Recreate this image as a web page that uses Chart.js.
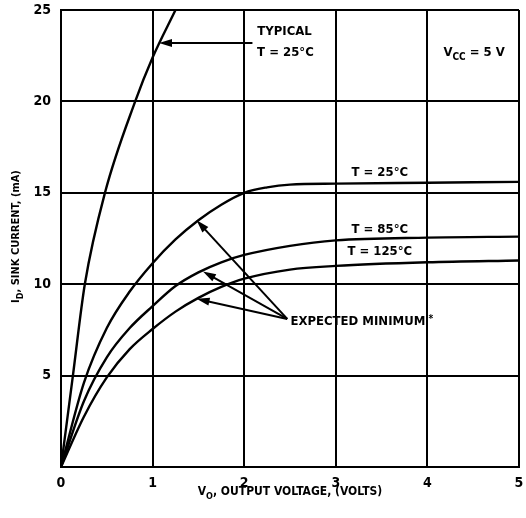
<!DOCTYPE html>
<html><head><meta charset="utf-8">
<script src="https://cdn.jsdelivr.net/npm/chart.js@4/dist/chart.umd.min.js"></script>
<style>html,body{margin:0;padding:0;background:#fff}canvas{display:block}</style>
</head><body>
<canvas id="c" width="526" height="518"></canvas>
<script>
// ---- data ----
const xTickValues = [0, 1, 2, 3, 4, 5];
const yTickValues = [5, 10, 15, 20, 25];

const typicalVolts   = [0, 0.13, 0.26, 0.48, 0.81, 1.0, 1.25];
const typicalCurrent = [0, 5, 10, 15, 20, 22.4, 25];

const min25Volts   = [0, 0.25, 0.5, 0.75, 1.0, 1.25, 1.5, 1.75, 2.0, 2.25, 2.5, 3, 4, 5];
const min25Current = [0, 4.6, 7.6, 9.6, 11.15, 12.45, 13.5, 14.35, 15.0, 15.3, 15.45, 15.5, 15.55, 15.6];

const min85Volts   = [0, 0.25, 0.5, 0.75, 1.0, 1.25, 1.5, 1.75, 2.0, 2.5, 3, 4, 5];
const min85Current = [0, 3.6, 6.0, 7.6, 8.8, 9.9, 10.65, 11.2, 11.6, 12.1, 12.4, 12.55, 12.6];

const min125Volts   = [0, 0.25, 0.5, 0.75, 1.0, 1.25, 1.5, 1.75, 2.0, 2.5, 3, 4, 5];
const min125Current = [0, 2.75, 4.9, 6.45, 7.55, 8.5, 9.25, 9.85, 10.3, 10.8, 11.0, 11.2, 11.3];

// annotation anchors in data units [volts, mA]
const typicalArrow = {tail: [2.09, 23.2], tip: [1.07, 23.2]};
const minArrowTail = [2.47, 8.1];
const minArrowTips = [[1.48, 13.5], [1.55, 10.7], [1.48, 9.2]];

const labels = [
  {at: [2.44, 23.8],  align: 'center', segs: [{t: 'TYPICAL'}]},
  {at: [2.45, 22.65], align: 'center', segs: [{t: 'T = 25°C'}]},
  {at: [4.51, 22.65], align: 'center', segs: [{t: 'V'}, {t: 'CC', sub: true}, {t: ' = 5 V'}]},
  {at: [3.48, 16.1],  align: 'center', segs: [{t: 'T = 25°C'}]},
  {at: [3.48, 13.0],  align: 'center', segs: [{t: 'T = 85°C'}]},
  {at: [3.48, 11.8],  align: 'center', segs: [{t: 'T = 125°C'}]},
  {at: [2.505, 7.95], align: 'left',   segs: [{t: 'EXPECTED MINIMUM'}, {t: ' *', sup: true}]}
];
const xTitle = [{t: 'V'}, {t: 'O', sub: true}, {t: ', OUTPUT VOLTAGE, (VOLTS)'}];
const yTitle = [{t: 'I'}, {t: 'D', sub: true}, {t: ', SINK CURRENT, (mA)'}];

const FONT = "'Liberation Sans Narrow','DejaVu Sans Condensed','Arial Narrow',sans-serif";

function pts(xs, ys) { return xs.map((x, i) => ({x: x, y: ys[i]})); }
function ds(xs, ys) {
  return {data: pts(xs, ys), showLine: true, borderColor: '#000', borderWidth: 2.4,
          pointRadius: 0, fill: false, cubicInterpolationMode: 'monotone'};
}

function richWidth(ctx, segs, size) {
  let w = 0;
  segs.forEach(s => {
    ctx.font = 'bold ' + (s.sub || s.sup ? Math.round(size * 0.78) : size) + 'px ' + FONT;
    w += ctx.measureText(s.t).width;
  });
  return w;
}
function drawRich(ctx, segs, x, y, align, size) {
  const w = richWidth(ctx, segs, size);
  let cx = align === 'center' ? x - w / 2 : x;
  ctx.textAlign = 'left';
  ctx.textBaseline = 'middle';
  segs.forEach(s => {
    const fs = s.sub || s.sup ? Math.round(size * 0.78) : size;
    ctx.font = 'bold ' + fs + 'px ' + FONT;
    const dy = s.sub ? size * 0.38 : (s.sup ? -size * 0.2 : 0);
    ctx.fillText(s.t, cx, y + dy);
    cx += ctx.measureText(s.t).width;
  });
}
function arrow(ctx, x1, y1, x2, y2) {
  const a = Math.atan2(y2 - y1, x2 - x1), L = 13, W = 4;
  ctx.beginPath(); ctx.moveTo(x1, y1); ctx.lineTo(x2 - (L - 2) * Math.cos(a), y2 - (L - 2) * Math.sin(a)); ctx.stroke();
  ctx.beginPath(); ctx.moveTo(x2, y2);
  ctx.lineTo(x2 - L * Math.cos(a) + W * Math.sin(a), y2 - L * Math.sin(a) - W * Math.cos(a));
  ctx.lineTo(x2 - L * Math.cos(a) - W * Math.sin(a), y2 - L * Math.sin(a) + W * Math.cos(a));
  ctx.closePath(); ctx.fill();
}

const annotate = {
  id: 'annotate',
  afterDraw(chart) {
    const ctx = chart.ctx, xs = chart.scales.x, ys = chart.scales.y, ca = chart.chartArea;
    const P = p => [xs.getPixelForValue(p[0]), ys.getPixelForValue(p[1])];
    ctx.save();
    ctx.fillStyle = '#000'; ctx.strokeStyle = '#000'; ctx.lineWidth = 2;
    let t = P(typicalArrow.tail), h = P(typicalArrow.tip);
    arrow(ctx, t[0], t[1], h[0], h[1]);
    const tl = P(minArrowTail);
    minArrowTips.forEach(tp => { const q = P(tp); arrow(ctx, tl[0], tl[1], q[0], q[1]); });
    labels.forEach(l => { const p = P(l.at); drawRich(ctx, l.segs, p[0], p[1], l.align, 13); });
    // axis titles
    drawRich(ctx, xTitle, (ca.left + ca.right) / 2, ca.bottom + 25, 'center', 12);
    ctx.translate(16, (ca.top + ca.bottom) / 2 - 2);
    ctx.rotate(-Math.PI / 2);
    drawRich(ctx, yTitle, 0, 0, 'center', 11);
    ctx.restore();
  }
};

new Chart(document.getElementById('c'), {
  type: 'scatter',
  data: {datasets: [
    ds(typicalVolts, typicalCurrent),
    ds(min25Volts, min25Current),
    ds(min85Volts, min85Current),
    ds(min125Volts, min125Current)
  ]},
  options: {
    responsive: false, animation: false, devicePixelRatio: 1,
    layout: {padding: {top: 10, right: 7, left: 0, bottom: 0}},
    plugins: {legend: {display: false}, tooltip: {enabled: false}},
    scales: {
      x: {
        type: 'linear', min: 0, max: 5,
        afterFit: s => { s.height = 51; s.paddingLeft = 0; s.paddingRight = 0; },
        afterBuildTicks: s => { s.ticks = xTickValues.map(v => ({value: v})); },
        ticks: {color: '#000', padding: 8, font: {family: FONT, size: 14, weight: 'bold'}, maxRotation: 0},
        grid: {color: '#000', lineWidth: 2, drawTicks: false},
        border: {color: '#000', width: 2}
      },
      y: {
        type: 'linear', min: 0, max: 25,
        afterFit: s => { s.width = 61; s.paddingTop = 0; s.paddingBottom = 0; },
        afterBuildTicks: s => { s.ticks = [0].concat(yTickValues).map(v => ({value: v})); },
        ticks: {color: '#000', padding: 10, font: {family: FONT, size: 14, weight: 'bold'},
                callback: v => (yTickValues.includes(v) ? String(v) : '')},
        grid: {color: '#000', lineWidth: 2, drawTicks: false},
        border: {color: '#000', width: 2}
      }
    }
  },
  plugins: [annotate]
});
</script>
</body></html>
